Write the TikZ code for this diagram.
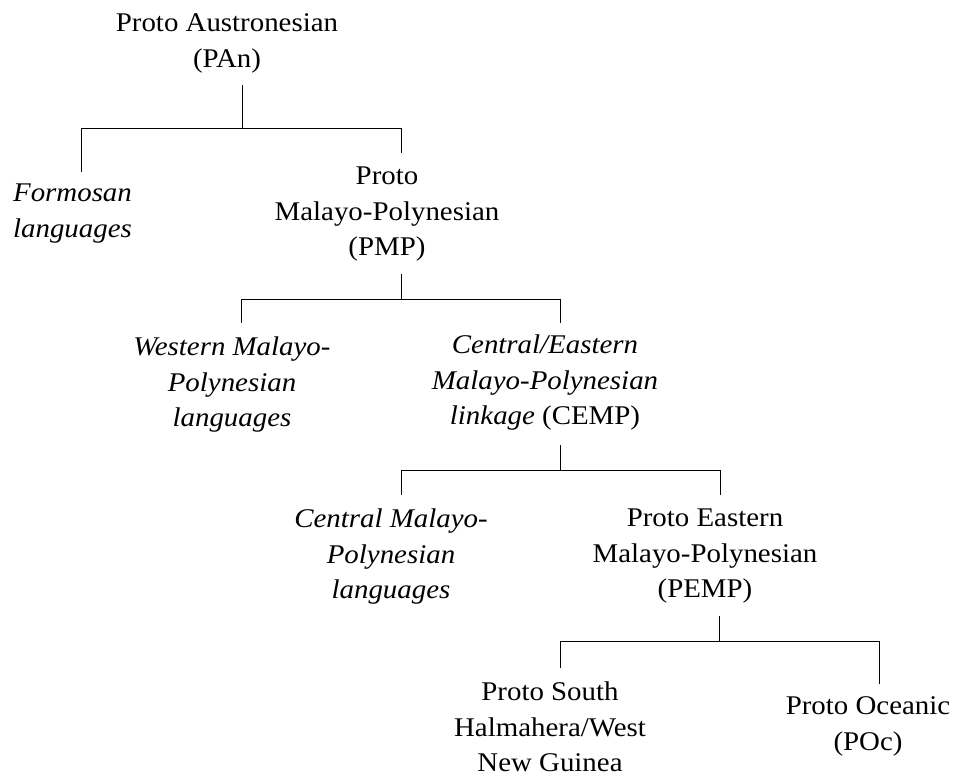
\documentclass[tikz,border=0pt]{standalone}
\usepackage{fontspec}
\setmainfont{Liberation Serif}[FakeStretch=1.07]
\begin{document}
\begin{tikzpicture}[x=1pt,y=-1pt,
  lang/.style={anchor=north,inner sep=0pt,align=center,
    font=\fontsize{27}{35.5}\selectfont},
  branch/.style={line width=1pt,black}]
\useasboundingbox (0,0) rectangle (954,777);

% language nodes
\node[lang] (pan)  at (227,13.7)  {Proto Austronesian\\(PAn)};
\node[lang] (form) at (72.5,183.7) {\textit{Formosan}\\\textit{languages}};
\node[lang] (pmp)  at (387,166.7) {Proto\\Malayo-Polynesian\\(PMP)};
\node[lang] (wmp)  at (232,336.7) {\textit{Western Malayo-}\\\textit{Polynesian}\\\textit{languages}};
\node[lang] (cemp) at (545,334.7) {\textit{Central/Eastern}\\\textit{Malayo-Polynesian}\\\textit{linkage} (CEMP)};
\node[lang] (cmp)  at (391,508.7) {\textit{Central Malayo-}\\\textit{Polynesian}\\\textit{languages}};
\node[lang] (pemp) at (705,508.7) {Proto Eastern\\Malayo-Polynesian\\(PEMP)};
\node[lang] (pshw) at (550,681.7) {Proto South\\Halmahera/West\\New Guinea};
\node[lang] (poc)  at (868,696.7) {Proto Oceanic\\(POc)};

% stem tops, junctions and drop ends
\coordinate (panS)  at (242,85);   \coordinate (panJ)  at (242,128);
\coordinate (formT) at (81,172);   \coordinate (pmpT)  at (401,153);
\coordinate (pmpS)  at (401,274);  \coordinate (pmpJ)  at (401,299);
\coordinate (wmpT)  at (241,323);  \coordinate (cempT) at (560,323);
\coordinate (cempS) at (560,445);  \coordinate (cempJ) at (560,470);
\coordinate (cmpT)  at (401,495);  \coordinate (pempT) at (720,495);
\coordinate (pempS) at (719,616);  \coordinate (pempJ) at (719,641);
\coordinate (pshwT) at (560,668);  \coordinate (pocT)  at (879,684);

% branches
\draw[branch] (panS) -- (panJ) -| (formT);
\draw[branch] (panJ) -| (pmpT);
\draw[branch] (pmpS) -- (pmpJ) -| (wmpT);
\draw[branch] (pmpJ) -| (cempT);
\draw[branch] (cempS) -- (cempJ) -| (cmpT);
\draw[branch] (cempJ) -| (pempT);
\draw[branch] (pempS) -- (pempJ) -| (pshwT);
\draw[branch] (pempJ) -| (pocT);
\end{tikzpicture}
\end{document}
